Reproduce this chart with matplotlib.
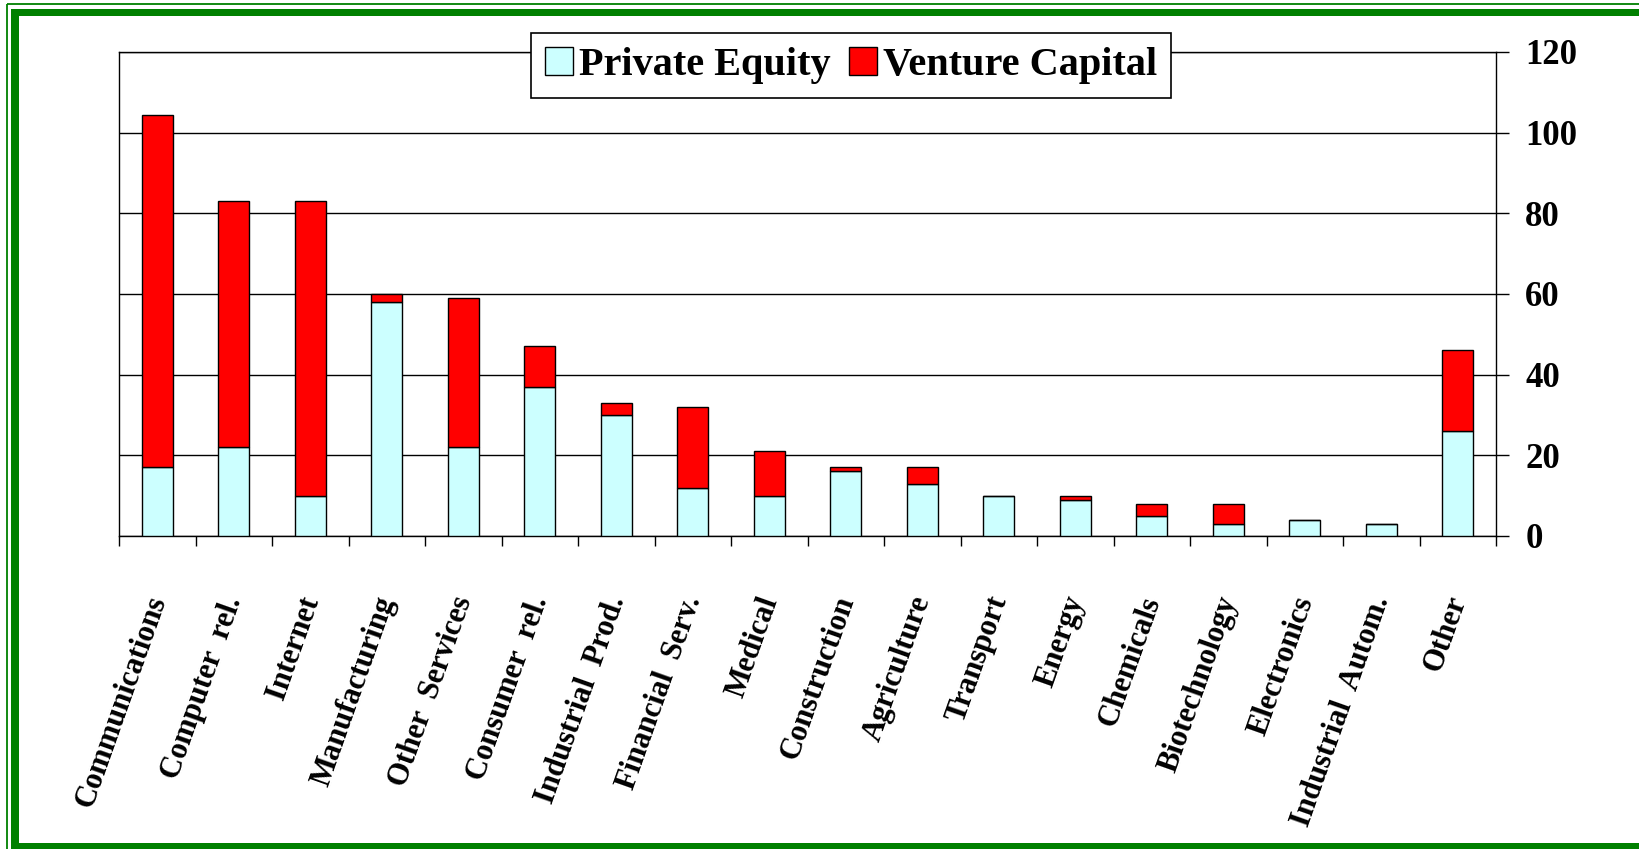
import matplotlib
matplotlib.use('Agg')
import matplotlib.pyplot as plt
import matplotlib.transforms as mtransforms
from matplotlib.patches import Rectangle
import numpy as np

categories = ['Communications', 'Computer  rel.', 'Internet', 'Manufacturing',
              'Other  Services', 'Consumer  rel.', 'Industrial  Prod.',
              'Financial  Serv.', 'Medical', 'Construction', 'Agriculture',
              'Transport', 'Energy', 'Chemicals', 'Biotechnology',
              'Electronics', 'Industrial  Autom.', 'Other']
private_equity = [17, 22, 10, 58, 22, 37, 30, 12, 10, 16, 13, 10, 9, 5, 3, 4, 3, 26]
venture_capital = [87.5, 61, 73, 2, 37, 10, 3, 20, 11, 1, 4, 0, 1, 3, 5, 0, 0, 20]
yticks = [0, 20, 40, 60, 80, 100, 120]


def main():
    plt.rcParams['font.family'] = ['Liberation Serif', 'DejaVu Serif']
    plt.rcParams['font.weight'] = 'bold'

    W, H = 1639, 849
    fig = plt.figure(figsize=(W / 100.0, H / 100.0), dpi=100)

    # green double frame (Excel chart border), partly cut off on right/bottom
    bg = fig.add_axes([0, 0, 1, 1], zorder=-5)
    bg.set_xlim(0, W)
    bg.set_ylim(H, 0)
    bg.axis('off')
    bg.add_patch(Rectangle((11, 9), W + 50, H + 50, facecolor='#008000', edgecolor='none'))
    bg.add_patch(Rectangle((19, 16), W + 50, 843 - 16, facecolor='white', edgecolor='none'))
    bg.add_patch(Rectangle((7, 4), W + 50, H + 50, facecolor='none', edgecolor='#008000', lw=1.3))

    ax = fig.add_axes([119.0 / W, 1 - 536.0 / H, (1496.0 - 119.0) / W, (536.0 - 52.0) / H])
    ax.patch.set_alpha(0)

    ind = np.arange(len(categories))
    width = 0.4
    b1 = ax.bar(ind, private_equity, width, color='#CCFFFF', edgecolor='black', linewidth=1.0, zorder=3)
    b2 = ax.bar(ind, venture_capital, width, bottom=private_equity, color='#FF0000',
                edgecolor='black', linewidth=1.0, zorder=3)

    ax.set_xlim(-0.5, len(categories) - 0.5)
    ax.set_ylim(0, 120)
    ax.yaxis.tick_right()
    ax.set_yticks(yticks)
    ax.set_yticklabels([str(v) for v in yticks], fontsize=25, fontweight='bold')
    ax.tick_params(axis='y', direction='out', length=9, width=1.0, pad=12)
    ax.grid(axis='y', color='black', linewidth=1.0, zorder=0)

    # tick marks between categories, labels centred under bars
    ax.set_xticks(np.arange(-0.5, len(categories), 1.0))
    ax.set_xticklabels([])
    ax.tick_params(axis='x', which='major', direction='out', length=7, width=1.0)
    ax.set_xticks(ind, minor=True)
    ax.set_xticklabels(categories, minor=True, rotation=70.5, ha='right', va='center',
                       rotation_mode='anchor', fontsize=22, fontweight='bold')
    ax.tick_params(axis='x', which='minor', length=0, pad=44)
    offset = mtransforms.ScaledTranslation(0.01, 0, fig.dpi_scale_trans)
    for lbl in ax.get_xticklabels(minor=True):
        lbl.set_transform(lbl.get_transform() + offset)

    for s in ax.spines.values():
        s.set_linewidth(1.0)
        s.set_color('black')

    leg = ax.legend((b1[0], b2[0]), ('Private Equity', 'Venture Capital'), ncol=2,
                    loc='upper center', bbox_to_anchor=(851.0 / W, 1 - 33.0 / H),
                    bbox_transform=fig.transFigure, fontsize=29, frameon=True,
                    fancybox=False, edgecolor='black', framealpha=1,
                    handlelength=0.7, handleheight=0.7, handletextpad=0.15,
                    columnspacing=0.45, borderpad=0.35, borderaxespad=0)
    leg.get_frame().set_linewidth(1.2)
    for t in leg.get_texts():
        t.set_fontweight('bold')
    leg.set_zorder(10)

    fig.savefig('out.png', dpi=100)


if __name__ == "__main__":
    main()
